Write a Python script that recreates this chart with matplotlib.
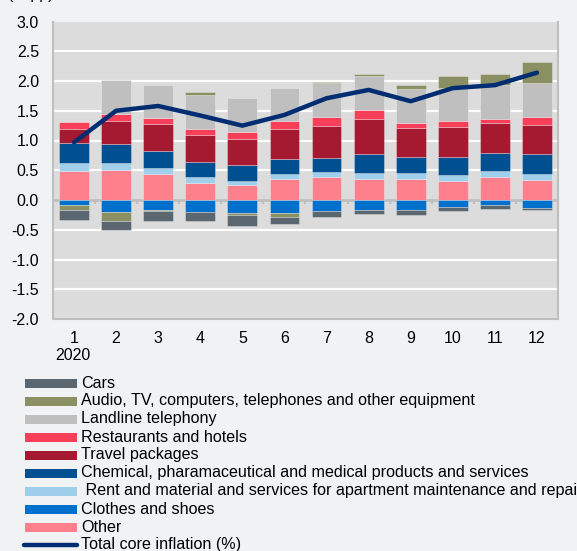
import matplotlib
matplotlib.use("Agg")
import matplotlib.pyplot as plt
from matplotlib.patches import Rectangle
from matplotlib.lines import Line2D
import numpy as np

plt.rcParams['font.family'] = ['Liberation Sans', 'DejaVu Sans']
plt.rcParams['axes.unicode_minus'] = False

months = ['1', '2', '3', '4', '5', '6', '7', '8', '9', '10', '11', '12']
year_label = '2020'

other = [0.49, 0.51, 0.43, 0.29, 0.26, 0.36, 0.38, 0.36, 0.36, 0.32, 0.39, 0.33]
clothes = [-0.09, -0.20, -0.17, -0.21, -0.22, -0.22, -0.18, -0.17, -0.16, -0.12, -0.09, -0.14]
rent = [0.13, 0.11, 0.11, 0.10, 0.06, 0.07, 0.09, 0.10, 0.09, 0.10, 0.09, 0.11]
chemical = [0.33, 0.32, 0.28, 0.25, 0.26, 0.26, 0.23, 0.31, 0.27, 0.31, 0.31, 0.33]
travel = [0.25, 0.39, 0.45, 0.45, 0.45, 0.50, 0.54, 0.59, 0.49, 0.49, 0.50, 0.49]
restaurants = [0.11, 0.12, 0.10, 0.10, 0.12, 0.13, 0.16, 0.16, 0.08, 0.10, 0.07, 0.13]
landline = [0.00, 0.57, 0.57, 0.58, 0.56, 0.56, 0.57, 0.56, 0.57, 0.57, 0.57, 0.57]
audio = [-0.07, -0.16, -0.01, 0.04, -0.04, -0.07, 0.02, 0.03, 0.08, 0.19, 0.18, 0.36]
cars = [-0.17, -0.15, -0.17, -0.15, -0.18, -0.12, -0.10, -0.06, -0.10, -0.06, -0.06, -0.03]
total_core = [0.97, 1.50, 1.58, 1.42, 1.25, 1.43, 1.71, 1.85, 1.66, 1.88, 1.93, 2.14]

series = [
    ('Other', other, '#FF808D'),
    ('Clothes and shoes', clothes, '#0070CC'),
    (' Rent and material and services for apartment maintenance and repair', rent, '#9FCFEB'),
    ('Chemical, pharamaceutical and medical products and services', chemical, '#005091'),
    ('Travel packages', travel, '#A51931'),
    ('Restaurants and hotels', restaurants, '#F83F5A'),
    ('Landline telephony', landline, '#BFBFBF'),
    ('Audio, TV, computers, telephones and other equipment', audio, '#8A9063'),
    ('Cars', cars, '#5B6770'),
]
line_label = 'Total core inflation (%)'
line_color = '#002D72'

W, H = 577, 551
fig = plt.figure(figsize=(W / 100, H / 100), dpi=100)
fig.patch.set_facecolor('#F1F2F4')

ax = fig.add_axes([53 / W, 1 - 319 / H, (558 - 53) / W, (319 - 21.5) / H])
ax.set_facecolor('#DCDCDC')

x = np.arange(1, len(months) + 1)
pos_bottom = np.zeros(len(x))
neg_bottom = np.zeros(len(x))
for name, vals, col in series:
    v = np.array(vals, dtype=float)
    bottom = np.where(v >= 0, pos_bottom, neg_bottom)
    ax.bar(x, v, bottom=bottom, width=0.71, color=col,
           edgecolor=(1, 1, 1, 0.35), linewidth=0.6, zorder=3)
    pos_bottom += np.where(v >= 0, v, 0)
    neg_bottom += np.where(v < 0, v, 0)

ax.plot(x, total_core, color=line_color, linewidth=3.2, zorder=5,
        solid_joinstyle='round', solid_capstyle='round')

ax.set_xlim(0.5, 12.5)
ax.set_ylim(-2.0, 3.0)
yt = np.arange(-2.0, 3.01, 0.5)
ax.set_yticks(yt)
ax.set_yticklabels([f'{v:.1f}' for v in yt])
for v in yt:
    if abs(v) > 1e-9 and v < 3.0:
        ax.axhline(v, color='white', linewidth=1.6, zorder=1)
ax.axhline(0, color='#BFBFBF', linewidth=2.0, zorder=2)
for b in np.arange(1.5, 12.5, 1.0):
    ax.plot([b, b], [0, -0.075], color='#BFBFBF', linewidth=1.6, zorder=2,
            solid_capstyle='butt')

ax.set_xticks(x)
ax.set_xticklabels(months)
ax.tick_params(axis='x', length=0, pad=8.5, labelsize=11.5, colors='black')
ax.tick_params(axis='y', length=0, pad=10, labelsize=11.5, colors='black')

for s in ['left', 'right', 'bottom']:
    ax.spines[s].set_color('#BFBFBF')
    ax.spines[s].set_linewidth(1.5)
ax.spines['top'].set_visible(False)

fig.text(73 / W, 1 - 355 / H, year_label, ha='center', va='center', fontsize=11.5)
fig.text(8 / W, 1 + 6 / H, '(in pp)', ha='left', va='center', fontsize=11.5)

# legend (reverse order), drawn manually
rows = [(n, c) for n, _, c in series[::-1]]
y0 = 383
for i, (name, col) in enumerate(rows):
    yc = y0 + 18 * i
    fig.add_artist(Rectangle((25 / W, 1 - (yc + 4.5) / H), 52 / W, 9 / H,
                             transform=fig.transFigure, facecolor=col,
                             edgecolor='none'))
    fig.text(81 / W, 1 - yc / H, name, ha='left', va='center', fontsize=11.6)
yc = y0 + 18 * len(rows)
fig.add_artist(Line2D([24 / W, 77 / W], [1 - yc / H, 1 - yc / H],
                      transform=fig.transFigure, color=line_color,
                      linewidth=3.2, solid_capstyle='round'))
fig.text(81 / W, 1 - yc / H, line_label, ha='left', va='center', fontsize=11.6)

fig.savefig('out.png', dpi=100, facecolor=fig.get_facecolor())
